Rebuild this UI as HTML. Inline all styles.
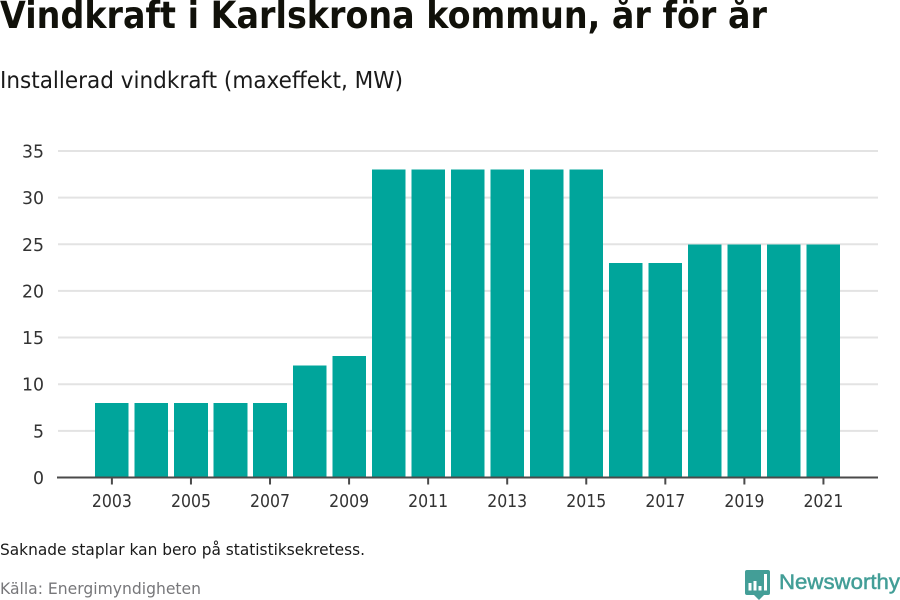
<!DOCTYPE html>
<html lang="sv">
<head>
<meta charset="utf-8">
<title>Vindkraft i Karlskrona kommun</title>
<style>
html,body{margin:0;padding:0;background:#fff;width:900px;height:600px;overflow:hidden}
svg{display:block;font-family:"DejaVu Sans","Liberation Sans",sans-serif}
</style>
</head>
<body>
<svg id="chart" width="900" height="600" viewBox="0 0 900 600">
<text x="0" y="28" font-size="37" font-weight="700" fill="#11110a" textLength="767" lengthAdjust="spacingAndGlyphs">Vindkraft i Karlskrona kommun, år för år</text>
<text x="0" y="88" font-size="23" fill="#1a1a1a" textLength="403" lengthAdjust="spacingAndGlyphs">Installerad vindkraft (maxeffekt, MW)</text>
<g id="grid"></g>
<g id="bars"></g>
<g id="axes"></g>
<text x="0" y="555" font-size="16" fill="#1a1a1a" textLength="365" lengthAdjust="spacingAndGlyphs">Saknade staplar kan bero på statistiksekretess.</text>
<text x="0" y="594" font-size="16" fill="#77777a" textLength="201" lengthAdjust="spacingAndGlyphs">Källa: Energimyndigheten</text>
<g>
<path d="M747 570h21a2 2 0 0 1 2 2v21a2 2 0 0 1-2 2h-4l-5 5-5-5h-7a2 2 0 0 1-2-2v-21a2 2 0 0 1 2-2z" fill="#439e97"></path>
<rect x="748.500" y="583" width="3" height="7.500" fill="#fff"></rect>
<rect x="753.500" y="581" width="3" height="9.500" fill="#fff"></rect>
<rect x="758.500" y="586" width="3" height="4.500" fill="#fff"></rect>
<rect x="764" y="574" width="3" height="16.500" fill="#fff"></rect>
<text x="779" y="589" font-size="21.500" fill="#439e97" stroke="#439e97" stroke-width="0.5" font-family="'Liberation Sans',sans-serif" textLength="121" lengthAdjust="spacingAndGlyphs">Newsworthy</text>
</g>
</svg>
<script>
const years = [2003,2004,2005,2006,2007,2008,2009,2010,2011,2012,2013,2014,2015,2016,2017,2018,2019,2020,2021];
const capacityMW = [8,8,8,8,8,12,13,33,33,33,33,33,33,23,23,25,25,25,25];
const yTicks = [0,5,10,15,20,25,30,35];
const xTickYears = [2003,2005,2007,2009,2011,2013,2015,2017,2019,2021];

const NS = 'http://www.w3.org/2000/svg';
function xScale(year){ return 111.9 + (year - 2003) * 39.53; }
function yScale(value){ return 477.5 - value * 9.33; }
function make(tag, attrs, parent){
  const el = document.createElementNS(NS, tag);
  for (const k in attrs) el.setAttribute(k, attrs[k]);
  parent.appendChild(el);
  return el;
}
const gridG = document.getElementById('grid');
const barsG = document.getElementById('bars');
const axesG = document.getElementById('axes');

yTicks.forEach(function(t){
  if (t !== 0) {
    const line = make('line', {x1:58, x2:878, y1:yScale(t), y2:yScale(t), stroke:'#e3e3e3', 'stroke-width':2}, gridG);
    
    
  }
  const label = make('text', {x:44, y:yScale(t) + 6.5, 'text-anchor':'end', 'font-size':18, fill:'#333', textLength:String(t).length * 11, lengthAdjust:'spacingAndGlyphs'}, axesG);
  label.textContent = t;
  
  
});

years.forEach(function(y, i){
  const v = capacityMW[i];
  const bar = make('rect', {x:xScale(y) - 16.8, y:yScale(v), width:33.6, height:yScale(0) - yScale(v), fill:'#00a59b', 'shape-rendering':'crispEdges'}, barsG);
  
  
});

const axisLine = make('line', {x1:57, x2:878, y1:yScale(0), y2:yScale(0), stroke:'#4a4a4a', 'stroke-width':2}, axesG);



xTickYears.forEach(function(y){
  const tick = make('line', {x1:xScale(y), x2:xScale(y), y1:yScale(0), y2:yScale(0) + 7, stroke:'#4a4a4a', 'stroke-width':2}, axesG);
  
  
  const label = make('text', {x:xScale(y), y:507, 'text-anchor':'middle', 'font-size':18, fill:'#333', textLength:40, lengthAdjust:'spacingAndGlyphs'}, axesG);
  label.textContent = y;
  
  
});
</script>
</body>
</html>
